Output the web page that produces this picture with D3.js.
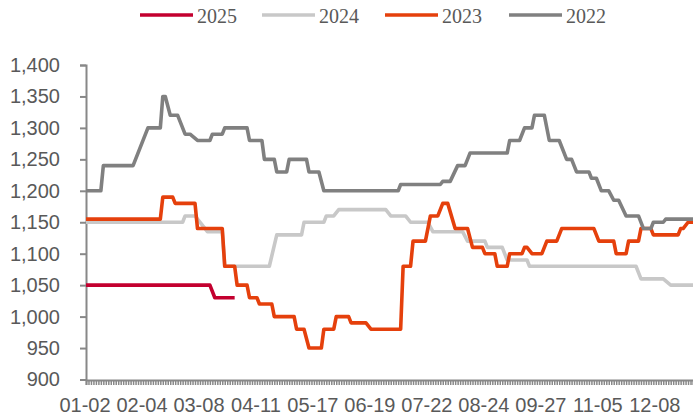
<!DOCTYPE html>
<html>
<head>
<meta charset="utf-8">
<script src="https://cdn.jsdelivr.net/npm/d3@7"></script>
<style>
  html, body { margin: 0; padding: 0; background: #fff; }
  svg { display: block; }
</style>
</head>
<body>
<svg id="chart" width="693" height="418"></svg>
<script>
// ---- data ----
const seriesNames = ["2025", "2024", "2023", "2022"];
const seriesColors = ["#C3002F", "#C8C8C8", "#E5400C", "#808080"];
const xTickLabels = ["01-02","02-04","03-08","04-11","05-17","06-19","07-22","08-24","09-27","11-05","12-08"];
const xTickIndex = [0, 23, 46, 69, 92, 115, 138, 161, 184, 207, 230];
const categoryCount = 246;
const yTicks = [900, 950, 1000, 1050, 1100, 1150, 1200, 1250, 1300, 1350, 1400];

// vertices [trading-day index, price]
const s2025 = [[0,1050],[50,1050],[52,1030],[60,1030]];
const s2024 = [[0,1150],[39,1150],[40,1160],[44,1160],[49,1135],[55,1135],[56,1080],[74,1080],[77,1130],[87,1130],
  [88,1150],[96,1150],[97,1160],[100,1160],[102,1170],[121,1170],[123,1160],[129,1160],[131,1150],[138,1150],
  [140,1135],[152,1135],[154,1120],[161,1120],[162,1110],[168,1110],[170,1090],[178,1090],[179,1080],[222,1080],
  [224,1060],[233,1060],[236,1050],[245,1050]];
const s2023 = [[0,1155],[30,1155],[31,1190],[35,1190],[36,1180],[44,1180],[45,1140],[55,1140],[56,1080],[60,1080],
  [61,1050],[65,1050],[66,1030],[69,1030],[70,1020],[75,1020],[76,1000],[84,1000],[85,980],[88,980],
  [90,950],[95,950],[96,980],[100,980],[101,1000],[106,1000],[107,990],[113,990],[115,980],[127,980],
  [128,1080],[131,1080],[132,1120],[137,1120],[139,1160],[142,1160],[144,1180],[146,1180],[149,1140],[154,1140],
  [156,1110],[160,1110],[161,1100],[165,1100],[166,1080],[170,1080],[171,1100],[176,1100],[177,1110],[178,1110],
  [180,1100],[184,1100],[186,1120],[190,1120],[192,1140],[205,1140],[207,1120],[213,1120],[214,1100],[218,1100],
  [219,1120],[223,1120],[224,1140],[228,1140],[229,1130],[239,1130],[240,1140],[241,1140],[243,1150],[245,1150]];
const s2022 = [[0,1200],[6,1200],[7,1240],[19,1240],[25,1300],[30,1300],[31,1350],[32,1350],[34,1320],[37,1320],
  [40,1290],[42,1290],[45,1280],[50,1280],[51,1290],[55,1290],[56,1300],[65,1300],[66,1280],[71,1280],
  [72,1250],[76,1250],[77,1230],[81,1230],[82,1250],[89,1250],[90,1230],[94,1230],[96,1200],[126,1200],
  [127,1210],[143,1210],[144,1215],[147,1215],[150,1240],[153,1240],[155,1260],[170,1260],[171,1280],[175,1280],
  [177,1300],[180,1300],[181,1320],[185,1320],[187,1280],[191,1280],[194,1250],[196,1250],[198,1230],[203,1230],
  [204,1220],[206,1220],[208,1200],[211,1200],[213,1185],[215,1185],[218,1160],[223,1160],[225,1140],[228,1140],
  [229,1150],[233,1150],[234,1155],[245,1155]];
const seriesData = [s2025, s2024, s2023, s2022];

// ---- drawing ----
const svg = d3.select("#chart");
const x = d3.scaleLinear().domain([0, categoryCount - 1]).range([86, 693]);
const y = d3.scaleLinear().domain([900, 1400]).range([379.5, 65]);
const axisColor = "#888888";
const textColor = "#595959";
const sans = "Liberation Sans, Arial, sans-serif";

// y axis
const yAxis = svg.append("g").attr("transform", "translate(86,0)")
  .call(d3.axisLeft(y).tickValues(yTicks).tickSize(6).tickPadding(20).tickFormat(d3.format(",")));
yAxis.select(".domain").attr("stroke", axisColor).attr("stroke-width", 2);
yAxis.selectAll(".tick line").attr("stroke", axisColor).attr("stroke-width", 2);
yAxis.selectAll("text").attr("fill", textColor).style("font-family", sans).style("font-size", "20px");

// lines (series order: later series drawn on top)
const line = d3.line().x(d => x(d[0])).y(d => y(d[1]));
seriesData.forEach((s, i) => {
  svg.append("path").datum(s)
    .attr("fill", "none").attr("stroke", seriesColors[i])
    .attr("stroke-width", 3.6).attr("stroke-linejoin", "round")
    .attr("d", line);
});

// x axis with dense category ticks
const xAxis = svg.append("g").attr("transform", "translate(0,380)")
  .call(d3.axisBottom(x).tickValues(d3.range(categoryCount)).tickSize(5).tickFormat(""));
xAxis.select(".domain").attr("stroke", axisColor).attr("stroke-width", 2);
xAxis.selectAll(".tick line").attr("stroke", axisColor).attr("stroke-width", 1.5);

const xl = svg.append("g");
xl.selectAll("text").data(xTickLabels).enter().append("text")
  .attr("x", (d, i) => x(xTickIndex[i]) - 1)
  .attr("y", 412)
  .attr("text-anchor", "middle")
  .attr("fill", textColor)
  .style("font-family", sans)
  .style("font-size", "20px")
  .text(d => d);

// legend
const legendX = [140, 262, 385, 509];
const lg = svg.append("g");
seriesNames.forEach((n, i) => {
  lg.append("line").attr("x1", legendX[i]).attr("x2", legendX[i] + 53)
    .attr("y1", 15).attr("y2", 15)
    .attr("stroke", seriesColors[i]).attr("stroke-width", 3.6);
  lg.append("text").attr("x", legendX[i] + 57).attr("y", 22.5)
    .attr("fill", textColor)
    .style("font-family", "Liberation Serif, Times New Roman, serif")
    .style("font-size", "20px")
    .text(n);
});
</script>
</body>
</html>
